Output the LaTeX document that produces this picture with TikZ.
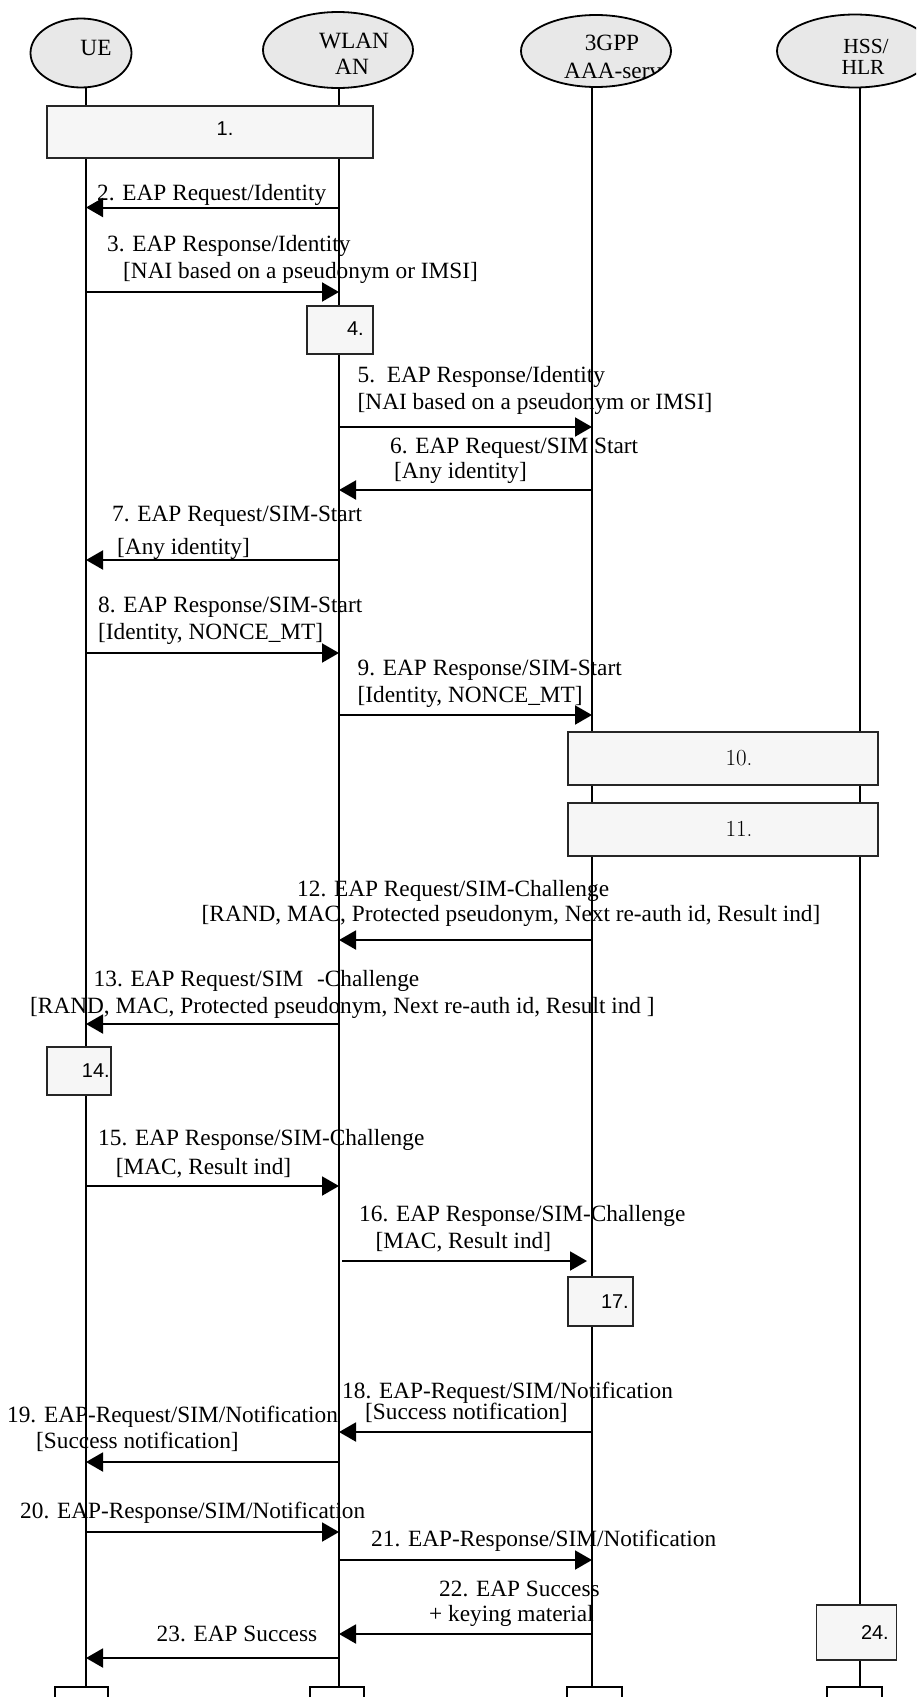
\documentclass[tikz,border=0pt]{standalone}
\usepackage{fontspec}
\newfontfamily\tnr{Liberation Serif}
\newfontfamily\hv{Liberation Sans}
\usetikzlibrary{arrows.meta,shapes.geometric}
\definecolor{hdrfill}{HTML}{E8E8E8}
\definecolor{boxfill}{HTML}{F6F6F6}
\begin{document}
\begin{tikzpicture}[x=1pt,y=-1pt,
  lab/.style={font=\tnr\fontsize{23.3}{28}\selectfont, anchor=base west, inner sep=0pt},
  hdrtxt/.style={font=\tnr\fontsize{23.3}{28}\selectfont, inner sep=0pt},
  hdr/.style={draw=black, line width=1.8pt, fill=hdrfill, ellipse, inner sep=0pt},
  box/.style={draw=black!85, line width=1.8pt, fill=boxfill, rectangle, inner sep=0pt},
  endbox/.style={draw=black, line width=1.8pt, fill=white, rectangle, inner sep=0pt},
  snum/.style={font=\hv\fontsize{20}{24}\selectfont, inner sep=0pt},
  lmnum/.style={font=\fontsize{23}{27}\selectfont, inner sep=0pt},
  life/.style={line width=1.4pt, draw=black},
  msg/.style={line width=2pt, -{Triangle[length=17pt,width=19pt]}}
]
\useasboundingbox (0,0) rectangle (916,1697);
\clip (0,0) rectangle (916,1697);

% lifeline anchors
\coordinate (ueL) at (86,87);
\coordinate (wlL) at (339,88);
\coordinate (gpL) at (592,87);
\coordinate (hsL) at (860,88);

\draw[life] (ueL) -- (ueL |- 0,1720);
\draw[life] (wlL) -- (wlL |- 0,1720);
\draw[life] (gpL) -- (gpL |- 0,1720);
\draw[life] (hsL) -- (hsL |- 0,1720);

% header ellipses
\node[hdr, minimum width=101pt, minimum height=69pt] (ue) at (81,53) {};
\node[hdr, minimum width=150pt, minimum height=76pt] (wlan) at (338,50) {};
\node[hdr, minimum width=150pt, minimum height=72pt] (gpp) at (596,51) {};
\node[hdr, minimum width=156pt, minimum height=73pt] (hss) at (855,51) {};
\node[hdrtxt] (ueT) at (96,48) {UE};
\node[hdrtxt] (wlT1) at (354,40.5) {WLAN};
\node[hdrtxt] (wlT2) at (352,66.5) {AN};
\node[hdrtxt] (gpT1) at (612,42.5) {3GPP};
\begin{scope}
  \clip (596,51) ellipse [x radius=74, y radius=35];
  \node[hdrtxt, anchor=west] (gpT2) at (564,71) {AAA-serv};
\end{scope}
\node[hdrtxt, font=\tnr\fontsize{21.5}{26}\selectfont] (hsT1) at (866,46) {HSS/};
\node[hdrtxt, font=\tnr\fontsize{21.5}{26}\selectfont] (hsT2) at (863,67.5) {HLR};

% process boxes
\node[box, minimum width=326pt, minimum height=52pt] (b1) at (210,132) {};
\node[snum] (b1t) at (225,129) {1.};
\node[box, minimum width=66pt, minimum height=48pt] (b4) at (340,330) {};
\node[snum, anchor=east] (b4t) at (364,329) {4.};
\node[box, minimum width=310pt, minimum height=53pt] (b10) at (723,758.5) {};
\node[lmnum] (b10t) at (739,758) {10.};
\node[box, minimum width=310pt, minimum height=53pt] (b11) at (723,829.5) {};
\node[lmnum] (b11t) at (739,829) {11.};
\node[box, minimum width=64pt, minimum height=48pt] (b14) at (79,1071) {};
\node[snum, anchor=east] (b14t) at (110,1071) {14.};
\node[box, minimum width=65pt, minimum height=49pt] (b17) at (600.5,1301.5) {};
\node[snum, anchor=east] (b17t) at (629,1302) {17.};
\node[box, minimum width=80pt, minimum height=55pt] (b24) at (856.5,1632.5) {};
\node[snum, anchor=east] (b24t) at (889,1632) {24.};

% bottom boxes
\node[endbox, minimum width=53pt, minimum height=40pt, anchor=north] (e1) at (81.5,1686) {};
\node[endbox, minimum width=54pt, minimum height=40pt, anchor=north] (e2) at (337,1686) {};
\node[endbox, minimum width=55pt, minimum height=40pt, anchor=north] (e3) at (594.5,1686) {};
\node[endbox, minimum width=55pt, minimum height=40pt, anchor=north] (e4) at (854.5,1686) {};

% messages
\node[lab] (t2) at (97,200) {2. EAP Request/Identity};
\draw[msg] (wlL |- 0,207.5) -- (ueL |- 0,207.5);

\node[lab] (t3a) at (107,251) {3. EAP Response/Identity};
\node[lab] (t3b) at (123,278) {[NAI based on a pseudonym or IMSI]};
\draw[msg] (ueL |- 0,292) -- (wlL |- 0,292);

\node[lab] (t5a) at (357.5,382) {5.\ \ EAP Response/Identity};
\node[lab] (t5b) at (357.5,409) {[NAI based on a pseudonym or IMSI]};
\draw[msg] (wlL |- 0,427) -- (gpL |- 0,427);

\node[lab] (t6a) at (390,453) {6. EAP Request/SIM Start};
\node[lab] (t6b) at (394,478) {[Any identity]};
\draw[msg] (gpL |- 0,490) -- (wlL |- 0,490);

\node[lab] (t7a) at (112,521) {7. EAP Request/SIM-Start};
\node[lab] (t7b) at (117,554) {[Any identity]};
\draw[msg] (wlL |- 0,560) -- (ueL |- 0,560);

\node[lab] (t8a) at (98,612) {8. EAP Response/SIM-Start};
\node[lab] (t8b) at (98,639) {[Identity, NONCE\_MT]};
\draw[msg] (ueL |- 0,653) -- (wlL |- 0,653);

\node[lab] (t9a) at (357.5,675) {9. EAP Response/SIM-Start};
\node[lab] (t9b) at (357.5,702) {[Identity, NONCE\_MT]};
\draw[msg] (wlL |- 0,715) -- (gpL |- 0,715);

\node[lab] (t12a) at (297,896) {12. EAP Request/SIM-Challenge};
\node[lab] (t12b) at (201.5,921) {[RAND, MAC, Protected pseudonym, Next re-auth id, Result ind]};
\draw[msg] (gpL |- 0,940) -- (wlL |- 0,940);

\node[lab] (t13a) at (93.5,986) {13. EAP Request/SIM\ \ \hspace{2pt}-Challenge};
\node[lab] (t13b) at (30,1013) {[RAND, MAC, Protected pseudonym, Next re-auth id, Result ind ]};
\draw[msg] (wlL |- 0,1024) -- (ueL |- 0,1024);

\node[lab] (t15a) at (98,1145) {15. EAP Response/SIM-Challenge};
\node[lab] (t15b) at (115.6,1174) {[MAC, Result ind]};
\draw[msg] (ueL |- 0,1186) -- (wlL |- 0,1186);

\node[lab] (t16a) at (359,1221) {16. EAP Response/SIM-Challenge};
\node[lab] (t16b) at (375.5,1248) {[MAC, Result ind]};
\draw[msg, shorten <=3pt, shorten >=5pt] (wlL |- 0,1261) -- (gpL |- 0,1261);

\node[lab] (t18a) at (342,1398) {18. EAP-Request/SIM/Notification};
\node[lab] (t18b) at (365,1419) {[Success notification]};
\draw[msg] (gpL |- 0,1432) -- (wlL |- 0,1432);

\node[lab] (t19a) at (7,1422) {19. EAP-Request/SIM/Notification};
\node[lab] (t19b) at (36,1448) {[Success notification]};
\draw[msg] (wlL |- 0,1462) -- (ueL |- 0,1462);

\node[lab] (t20) at (20,1518) {20. EAP-Response/SIM/Notification};
\draw[msg] (ueL |- 0,1532) -- (wlL |- 0,1532);

\node[lab] (t21) at (371,1546) {21. EAP-Response/SIM/Notification};
\draw[msg] (wlL |- 0,1560) -- (gpL |- 0,1560);

\node[lab] (t22a) at (439,1596) {22. EAP Success};
\node[lab] (t22b) at (429,1621) {+ keying material};
\draw[msg] (gpL |- 0,1634) -- (wlL |- 0,1634);

\node[lab] (t23) at (156.5,1641) {23. EAP Success};
\draw[msg] (wlL |- 0,1658) -- (ueL |- 0,1658);
\end{tikzpicture}
\end{document}
